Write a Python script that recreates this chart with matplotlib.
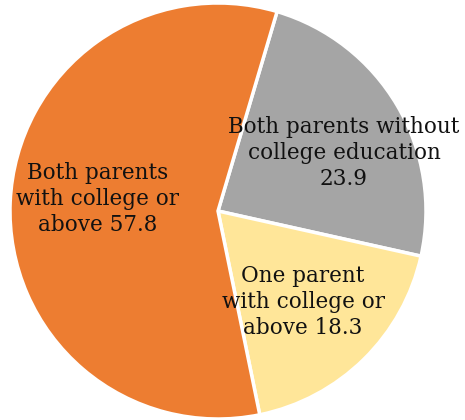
import matplotlib.pyplot as plt

labels = ["Both parents without\ncollege education\n23.9",
          "One parent\nwith college or\nabove 18.3",
          "Both parents\nwith college or\nabove 57.8"]
values = [23.9, 18.3, 57.8]
colors = ["#A5A5A5", "#FFE699", "#ED7D31"]
# label centres in data units (pie radius = 1)
label_xy = [(0.606, 0.279), (0.409, -0.4375), (-0.577, 0.058)]

fig = plt.figure(figsize=(4.65, 4.2), dpi=100)
ax = fig.add_axes([10 / 465, 1 / 420, 416 / 465, 416 / 420])

wedges, _ = ax.pie(values, colors=colors, startangle=73.5, counterclock=False,
                   radius=1, wedgeprops=dict(edgecolor="white", linewidth=2.5))

for txt, (x, y) in zip(labels, label_xy):
    ax.text(x, y, txt, ha="center", va="center",
            fontsize=15.5, family="DejaVu Serif", color="#111111",
            linespacing=1.22)

ax.set_xlim(-1, 1)
ax.set_ylim(-1, 1)
ax.set_aspect("equal")
ax.axis("off")

fig.savefig("out.png", dpi=100)
